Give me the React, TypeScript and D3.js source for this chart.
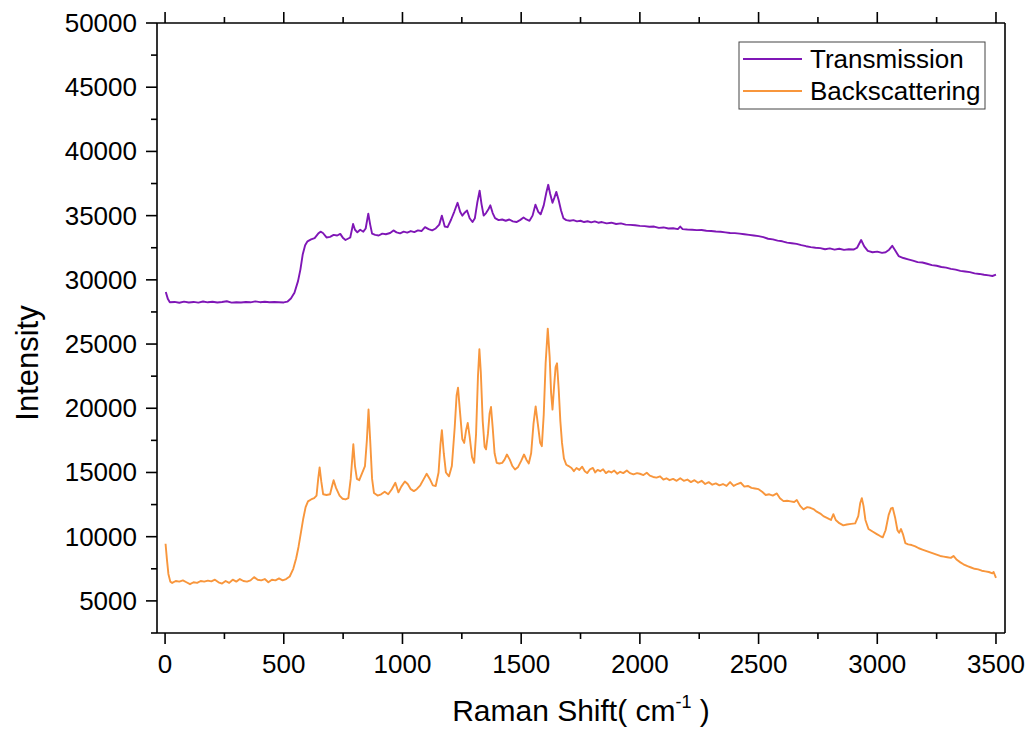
import React, { useEffect, useRef } from 'react';
import * as d3 from 'd3';

// Raman spectra (cm-1 / counts)
const transShift = [3, 12, 20, 40, 60, 80, 100, 120, 140, 160, 180, 200, 220, 240, 260, 280, 300, 320, 340, 360, 380, 400, 420, 440, 460, 480, 500, 515, 530, 545, 560, 570, 580, 590, 600, 615, 630, 645, 655, 665, 680, 695, 710, 725, 738, 750, 760, 770, 780, 792, 800, 810, 822, 835, 845, 856, 864, 872, 885, 900, 915, 930, 948, 962, 975, 990, 1005, 1020, 1035, 1050, 1065, 1080, 1095, 1110, 1125, 1140, 1155, 1166, 1178, 1190, 1205, 1218, 1232, 1243, 1252, 1263, 1272, 1283, 1295, 1305, 1315, 1325, 1333, 1342, 1352, 1362, 1370, 1380, 1390, 1405, 1420, 1435, 1450, 1465, 1480, 1495, 1510, 1522, 1535, 1548, 1560, 1572, 1582, 1595, 1606, 1614, 1622, 1632, 1640, 1648, 1658, 1668, 1678, 1690, 1705, 1720, 1735, 1750, 1765, 1780, 1795, 1810, 1825, 1840, 1860, 1880, 1900, 1920, 1940, 1960, 1980, 2000, 2020, 2040, 2060, 2080, 2100, 2120, 2140, 2160, 2170, 2180, 2200, 2220, 2240, 2260, 2280, 2300, 2320, 2340, 2360, 2380, 2400, 2420, 2440, 2460, 2480, 2500, 2520, 2540, 2560, 2580, 2600, 2620, 2640, 2660, 2680, 2700, 2720, 2740, 2760, 2780, 2800, 2820, 2840, 2860, 2880, 2900, 2915, 2932, 2945, 2960, 2980, 3000, 3020, 3035, 3050, 3063, 3075, 3090, 3110, 3130, 3150, 3170, 3190, 3210, 3230, 3250, 3270, 3290, 3310, 3330, 3350, 3370, 3390, 3410, 3430, 3450, 3470, 3485, 3500];
const transIntensity = [29050, 28500, 28250, 28280, 28220, 28300, 28240, 28280, 28230, 28310, 28250, 28290, 28240, 28270, 28330, 28230, 28260, 28240, 28280, 28250, 28320, 28260, 28290, 28250, 28280, 28260, 28240, 28300, 28550, 29000, 29900, 30800, 32000, 32700, 33000, 33150, 33250, 33600, 33750, 33650, 33300, 33350, 33500, 33450, 33580, 33250, 33100, 33200, 33300, 34350, 33900, 33700, 33900, 33750, 34000, 35150, 34300, 33600, 33500, 33450, 33600, 33550, 33650, 33850, 33700, 33620, 33750, 33680, 33800, 33720, 33850, 33800, 34100, 33950, 33850, 34000, 34300, 35000, 34150, 34100, 34700, 35300, 36000, 35300, 35000, 35250, 35400, 34800, 34500, 34800, 36000, 36950, 35900, 35000, 35200, 35500, 35800, 35200, 34800, 34650, 34700, 34600, 34700, 34550, 34500, 34650, 34850, 34700, 34600, 35000, 35850, 35300, 35100, 35800, 36800, 37400, 36700, 36000, 36400, 36850, 36200, 35400, 34800, 34650, 34600, 34650, 34550, 34600, 34500, 34560, 34480, 34550, 34450, 34500, 34400, 34450, 34350, 34400, 34300, 34280, 34250, 34200, 34180, 34130, 34150, 34050, 34080, 34000, 34020, 33950, 34150, 33950, 33920, 33900, 33870, 33880, 33820, 33800, 33760, 33740, 33700, 33650, 33640, 33600, 33550, 33500, 33450, 33400, 33330, 33200, 33150, 33050, 33000, 32900, 32850, 32800, 32700, 32620, 32550, 32500, 32470, 32380, 32450, 32350, 32420, 32330, 32380, 32360, 32500, 33100, 32600, 32250, 32150, 32200, 32100, 32150, 32350, 32650, 32300, 31850, 31700, 31600, 31500, 31380, 31350, 31250, 31150, 31100, 31000, 30950, 30850, 30800, 30700, 30650, 30600, 30500, 30460, 30400, 30350, 30300, 30400];

const backShift = [2, 8, 14, 22, 30, 45, 60, 75, 90, 105, 120, 135, 150, 165, 180, 195, 210, 225, 240, 255, 270, 285, 300, 315, 330, 345, 360, 375, 390, 405, 420, 435, 450, 465, 480, 495, 510, 525, 540, 552, 562, 572, 582, 592, 602, 615, 628, 638, 645, 651, 658, 666, 680, 695, 703, 710, 720, 735, 748, 760, 772, 782, 793, 800, 808, 818, 830, 842, 850, 857, 864, 872, 880, 895, 910, 925, 940, 955, 970, 983, 995, 1010, 1022, 1035, 1048, 1060, 1075, 1090, 1102, 1115, 1128, 1140, 1152, 1160, 1166, 1174, 1183, 1196, 1208, 1220, 1228, 1234, 1242, 1252, 1260, 1268, 1275, 1283, 1293, 1302, 1310, 1318, 1324, 1330, 1338, 1346, 1352, 1360, 1367, 1373, 1380, 1388, 1397, 1408, 1420, 1430, 1440, 1452, 1463, 1474, 1486, 1500, 1512, 1522, 1532, 1542, 1552, 1561, 1570, 1580, 1587, 1595, 1603, 1612, 1620, 1626, 1632, 1639, 1645, 1651, 1658, 1665, 1672, 1680, 1690, 1700, 1712, 1722, 1733, 1745, 1757, 1768, 1778, 1790, 1802, 1812, 1822, 1833, 1845, 1857, 1868, 1880, 1892, 1905, 1917, 1930, 1945, 1958, 1973, 1988, 2000, 2015, 2029, 2042, 2056, 2070, 2085, 2099, 2112, 2125, 2140, 2155, 2170, 2185, 2200, 2215, 2230, 2245, 2260, 2275, 2290, 2305, 2320, 2335, 2350, 2365, 2380, 2395, 2410, 2425, 2440, 2455, 2470, 2485, 2500, 2515, 2530, 2545, 2560, 2577, 2590, 2605, 2620, 2635, 2650, 2661, 2675, 2689, 2705, 2718, 2731, 2745, 2760, 2773, 2790, 2805, 2815, 2825, 2840, 2857, 2872, 2890, 2907, 2920, 2928, 2935, 2942, 2950, 2963, 2980, 2998, 3012, 3023, 3035, 3048, 3058, 3065, 3075, 3085, 3092, 3100, 3108, 3118, 3130, 3145, 3160, 3175, 3190, 3205, 3220, 3235, 3250, 3265, 3280, 3295, 3310, 3321, 3335, 3350, 3363, 3380, 3395, 3410, 3425, 3440, 3455, 3470, 3485, 3490, 3500];
const backIntensity = [9450, 8200, 7100, 6500, 6400, 6550, 6500, 6600, 6450, 6300, 6450, 6400, 6550, 6500, 6580, 6520, 6650, 6450, 6350, 6550, 6400, 6650, 6500, 6700, 6550, 6500, 6600, 6850, 6650, 6600, 6700, 6450, 6650, 6600, 6750, 6600, 6700, 6900, 7500, 8300, 9200, 10300, 11400, 12300, 12750, 12900, 13000, 13200, 14500, 15400, 14300, 13300, 13250, 13300, 13900, 14400, 13800, 13200, 12950, 12900, 13000, 14500, 17200, 15500, 14500, 14400, 14950, 15500, 17500, 19900, 17500, 14500, 13400, 13200, 13300, 13500, 13300, 13700, 14200, 13450, 13900, 14300, 14100, 13700, 13550, 13700, 14000, 14500, 14900, 14500, 14000, 13950, 15000, 17200, 18300, 16500, 15000, 14700, 15500, 18500, 21000, 21600, 19800, 17600, 17300, 18300, 18850, 17800, 16200, 15750, 18000, 22500, 24600, 22800, 19000, 17000, 16800, 18000, 19600, 20100, 18500, 16500, 15750, 15700, 15750, 16000, 16400, 16000, 15500, 15230, 15400, 15900, 16400, 16000, 15700, 16500, 18800, 20150, 18800, 17300, 17050, 19500, 23500, 26200, 24000, 21200, 19900, 21800, 23200, 23500, 21500, 19000, 17300, 16100, 15600, 15500, 15350, 15100, 15350, 15200, 15450, 15100, 14950, 15250, 15350, 15000, 15200, 15100, 15250, 14950, 15100, 15000, 15150, 14900, 15050, 14950, 15150, 14950, 14850, 14950, 14900, 14800, 14980, 14750, 14650, 14600, 14700, 14450, 14550, 14400, 14500, 14350, 14550, 14350, 14450, 14250, 14400, 14200, 14350, 14100, 14250, 14050, 14150, 14000, 14100, 13950, 14250, 13950, 14100, 14200, 13900, 13950, 13800, 13750, 13700, 13500, 13250, 13300, 13200, 13370, 13000, 12770, 12800, 12750, 12700, 12850, 12400, 12130, 12300, 12250, 12150, 11950, 11800, 11600, 11450, 11300, 11750, 11300, 11050, 10880, 10950, 11000, 11040, 11600, 12600, 13000, 12400, 11300, 10600, 10400, 10200, 10050, 9950, 10500, 11700, 12200, 12250, 11500, 10500, 10300, 10600, 10200, 9500, 9400, 9350, 9250, 9100, 9000, 8900, 8800, 8700, 8600, 8500, 8450, 8400, 8350, 8500, 8200, 8000, 7850, 7700, 7600, 7500, 7450, 7350, 7300, 7250, 7150, 7250, 6800];

const xMajorTicks = [0, 500, 1000, 1500, 2000, 2500, 3000, 3500];
const xMinorTicks = [250, 750, 1250, 1750, 2250, 2750, 3250];
const yMajorTicks = [5000, 10000, 15000, 20000, 25000, 30000, 35000, 40000, 45000, 50000];
const yMinorTicks = [2500, 7500, 12500, 17500, 22500, 27500, 32500, 37500, 42500, 47500];

const seriesNames = ['Transmission', 'Backscattering'];
const seriesColors = ['#7f16b6', '#f8963c'];

const FONT = '"Liberation Sans", Arial, sans-serif';

const RamanChart = () => {
  const chartRef = useRef<SVGSVGElement>(null);

  useEffect(() => {
    drawChart();
  }, []);

  const drawChart = () => {
    const width = 1033;
    const height = 731;
    const left = 157, right = 1005, top = 23, bottom = 633;

    const svg = d3.select(chartRef.current).attr('width', width).attr('height', height);
    svg.selectAll('*').remove();

    const x = d3.scaleLinear().domain([-34, 3538]).range([left, right]);
    const y = d3.scaleLinear().domain([2500, 50000]).range([bottom, top]);

    const line = d3
      .line<[number, number]>()
      .x(d => x(d[0]))
      .y(d => y(d[1]));

    const series = [
      transShift.map((s, i) => [s, transIntensity[i]] as [number, number]),
      backShift.map((s, i) => [s, backIntensity[i]] as [number, number])
    ];

    series.forEach((pts, i) => {
      svg
        .append('path')
        .attr('d', line(pts))
        .attr('fill', 'none')
        .attr('stroke', seriesColors[i])
        .attr('stroke-width', 1.9)
        .attr('stroke-linejoin', 'round');
    });

    const axis = svg.append('g').attr('stroke', '#000').attr('stroke-width', 1.6);

    // frame: left, bottom, top, right
    axis.append('line').attr('x1', left).attr('x2', left).attr('y1', top).attr('y2', bottom);
    axis.append('line').attr('x1', left).attr('x2', right).attr('y1', bottom).attr('y2', bottom);
    axis.append('line').attr('x1', left).attr('x2', right).attr('y1', top).attr('y2', top);
    axis.append('line').attr('x1', right).attr('x2', right).attr('y1', top).attr('y2', bottom);

    const major = 11, minor = 6;

    xMajorTicks.forEach(t => {
      axis.append('line').attr('x1', x(t)).attr('x2', x(t)).attr('y1', bottom).attr('y2', bottom + major);
      axis.append('line').attr('x1', x(t)).attr('x2', x(t)).attr('y1', top).attr('y2', top - major);
    });
    xMinorTicks.forEach(t => {
      axis.append('line').attr('x1', x(t)).attr('x2', x(t)).attr('y1', bottom).attr('y2', bottom + minor);
      axis.append('line').attr('x1', x(t)).attr('x2', x(t)).attr('y1', top).attr('y2', top - minor);
    });
    yMajorTicks.forEach(t => {
      axis.append('line').attr('x1', left - major).attr('x2', left).attr('y1', y(t)).attr('y2', y(t));
    });
    yMinorTicks.forEach(t => {
      axis.append('line').attr('x1', left - minor).attr('x2', left).attr('y1', y(t)).attr('y2', y(t));
    });

    svg
      .append('g')
      .selectAll('text')
      .data(xMajorTicks)
      .enter()
      .append('text')
      .attr('x', d => x(d))
      .attr('y', 673)
      .attr('text-anchor', 'middle')
      .attr('font-family', FONT)
      .attr('font-size', 26)
      .text(d => String(d));

    svg
      .append('g')
      .selectAll('text')
      .data(yMajorTicks)
      .enter()
      .append('text')
      .attr('x', 137)
      .attr('y', d => y(d) + 9)
      .attr('text-anchor', 'end')
      .attr('font-family', FONT)
      .attr('font-size', 26)
      .text(d => String(d));

    // axis titles
    const xt = svg
      .append('text')
      .attr('x', 581)
      .attr('y', 721)
      .attr('text-anchor', 'middle')
      .attr('font-family', FONT)
      .attr('font-size', 30);
    xt.append('tspan').text('Raman Shift( cm');
    xt.append('tspan').attr('font-size', 18).attr('dy', -13).text('-1');
    xt.append('tspan').attr('dy', 13).text(' )');

    svg
      .append('text')
      .attr('transform', 'translate(38,363) rotate(-90)')
      .attr('text-anchor', 'middle')
      .attr('font-family', FONT)
      .attr('font-size', 31)
      .text('Intensity');

    // legend
    const lg = svg.append('g');
    lg.append('rect')
      .attr('x', 739)
      .attr('y', 42)
      .attr('width', 246)
      .attr('height', 67)
      .attr('fill', '#fff')
      .attr('stroke', '#444')
      .attr('stroke-width', 1);
    seriesNames.forEach((name, i) => {
      const cy = 59 + i * 32;
      lg.append('line')
        .attr('x1', 743)
        .attr('x2', 802)
        .attr('y1', cy)
        .attr('y2', cy)
        .attr('stroke', seriesColors[i])
        .attr('stroke-width', 2);
      lg.append('text')
        .attr('x', 810)
        .attr('y', cy + 9)
        .attr('font-family', FONT)
        .attr('font-size', 26)
        .text(name);
    });
  };

  return <svg ref={chartRef} style={{ position: 'absolute', left: 0, top: 0 }}></svg>;
};

export default function App() {
  return <RamanChart />;
}
